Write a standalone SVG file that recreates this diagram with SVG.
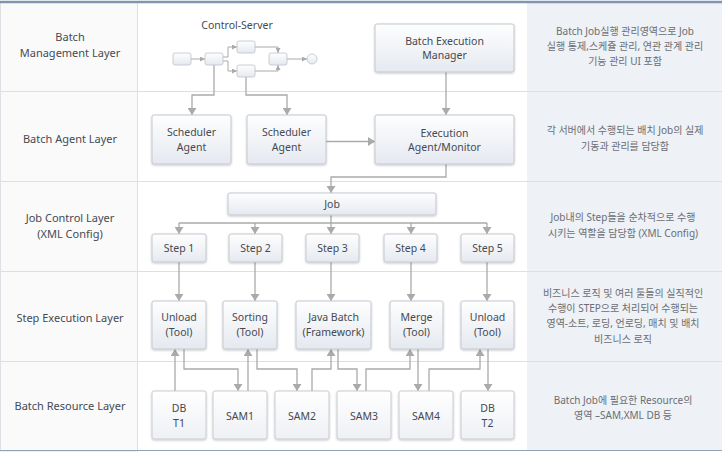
<svg xmlns="http://www.w3.org/2000/svg" width="722" height="455" viewBox="0 0 722 455">
<style>
.lbl{font-family:"Noto Sans","Open Sans","Liberation Sans",sans-serif;font-size:11px;fill:#454a52;text-anchor:middle}
.bt{font-family:"Noto Sans","Open Sans","Liberation Sans",sans-serif;font-size:10.5px;fill:#454a52;text-anchor:middle}
.kr{font-family:"Noto Sans","Noto Sans CJK KR",sans-serif;font-size:10px;fill:#6a6e74;text-anchor:middle}
.box{fill:url(#g);stroke:#c3c8d0;stroke-width:1;filter:url(#sh)}
.rbox{fill:url(#g2);stroke:#c8ccd3;stroke-width:1;filter:url(#sh)}
.mini{fill:url(#g);stroke:#bcc2ca;stroke-width:0.8}
.c{fill:none;stroke:#aaaaaa;stroke-width:1.3}
.cs{fill:none;stroke:#aaaaaa;stroke-width:1}
.sep{stroke:#dcdfe4;stroke-width:1}
</style>
<defs>
<linearGradient id="g" x1="0" y1="0" x2="0" y2="1"><stop offset="0" stop-color="#fefefe"/><stop offset="1" stop-color="#e5e9f0"/></linearGradient>
<linearGradient id="g2" x1="0" y1="0" x2="0" y2="1"><stop offset="0" stop-color="#ffffff"/><stop offset="1" stop-color="#eef0f4"/></linearGradient>
<filter id="sh" x="-10%" y="-10%" width="120%" height="130%"><feDropShadow dx="0" dy="1" stdDeviation="0.8" flood-color="#000" flood-opacity="0.22"/></filter>
<marker id="a" viewBox="0 0 10 10" refX="10" refY="5" markerWidth="7" markerHeight="9" markerUnits="userSpaceOnUse" orient="auto" preserveAspectRatio="none"><path d="M0,0 L10,5 L0,10 z" fill="#aaaaaa"/></marker>
<marker id="as" viewBox="0 0 10 10" refX="10" refY="5" markerWidth="5" markerHeight="5" markerUnits="userSpaceOnUse" orient="auto" preserveAspectRatio="none"><path d="M0,0 L10,5 L0,10 z" fill="#aaaaaa"/></marker>
</defs>
<rect x="0" y="0" width="722" height="455" fill="#ffffff"/>
<g id="frame">
<rect x="0.5" y="2" width="137" height="449" fill="#fafafb" stroke="#dde0e4"/>
<rect x="527" y="2" width="195" height="449" fill="#eef1f5"/>
<line class="sep" x1="0" y1="91.5" x2="722" y2="91.5"/>
<line class="sep" x1="0" y1="181.5" x2="722" y2="181.5"/>
<line class="sep" x1="0" y1="271.5" x2="722" y2="271.5"/>
<line class="sep" x1="0" y1="361.5" x2="722" y2="361.5"/>
<line x1="0" y1="2" x2="722" y2="2" stroke="#7e96b0" stroke-width="2.5"/>
<line x1="0" y1="450.5" x2="722" y2="450.5" stroke="#8ea2b8" stroke-width="1.2"/>
</g>
<g id="layers">
<text class="lbl" x="70" y="41">Batch</text>
<text class="lbl" x="70" y="57">Management Layer</text>
<text class="lbl" x="70" y="143">Batch Agent Layer</text>
<text class="lbl" x="70" y="222">Job Control Layer</text>
<text class="lbl" x="70" y="238">(XML Config)</text>
<text class="lbl" x="70" y="322">Step Execution Layer</text>
<text class="lbl" x="70" y="410">Batch Resource Layer</text>
</g>
<g id="descriptions">
<text class="kr" x="625" y="34.5">Batch Job실행 관리영역으로 Job</text>
<text class="kr" x="625" y="49.5">실행 통제,스케쥴 관리, 연관 관계 관리</text>
<text class="kr" x="625" y="64.5">기능 관리 UI 포함</text>
<text class="kr" x="625" y="133.5">각 서버에서 수행되는 배치 Job의 실제</text>
<text class="kr" x="625" y="149.5">기동과 관리를 담당함</text>
<text class="kr" x="623" y="220.5">Job내의 Step들을 순차적으로 수행</text>
<text class="kr" x="623" y="236.5">시키는 역할을 담당함 (XML Config)</text>
<text class="kr" x="623" y="296.5">비즈니스 로직 및 여러 툴들의 실직적인</text>
<text class="kr" x="623" y="311.5">수행이 STEP으로 처리되어 수행되는</text>
<text class="kr" x="623" y="326.5">영역-소트, 로딩, 언로딩, 매치 및 배치</text>
<text class="kr" x="623" y="342.5">비즈니스 로직</text>
<text class="kr" x="623" y="403.5">Batch Job에 필요한 Resource의</text>
<text class="kr" x="623" y="418.5">영역 –SAM,XML DB 등</text>
</g>
<g id="connectors">
<path class="cs" d="M191,59 H205" marker-end="url(#as)"/>
<path class="cs" d="M223,57 H228 V47 H237" marker-end="url(#as)"/>
<path class="cs" d="M223,61 H228 V71 H237" marker-end="url(#as)"/>
<path class="cs" d="M255,47 H278 V53" marker-end="url(#as)"/>
<path class="cs" d="M255,71 H278 V65" marker-end="url(#as)"/>
<path class="cs" d="M287,59 H307" marker-end="url(#as)"/>
<path class="c" d="M214,65 V95 H192 V115" marker-end="url(#a)"/>
<path class="c" d="M246,77 V95 H287 V115" marker-end="url(#a)"/>
<path class="c" d="M446,72 V115" marker-end="url(#a)"/>
<path class="c" d="M326,141.5 H375" marker-end="url(#a)"/>
<path class="c" d="M446,164 V177 H331 V193" marker-end="url(#a)"/>
<path class="c" d="M331,215 V223 M179,223 H487"/>
<path class="c" d="M179,223 V234" marker-end="url(#a)"/>
<path class="c" d="M255,223 V234" marker-end="url(#a)"/>
<path class="c" d="M331,223 V234" marker-end="url(#a)"/>
<path class="c" d="M411,223 V234" marker-end="url(#a)"/>
<path class="c" d="M487,223 V234" marker-end="url(#a)"/>
<path class="c" d="M179,262 V301" marker-end="url(#a)"/>
<path class="c" d="M255,262 V301" marker-end="url(#a)"/>
<path class="c" d="M331,262 V301" marker-end="url(#a)"/>
<path class="c" d="M411,262 V301" marker-end="url(#a)"/>
<path class="c" d="M487,262 V301" marker-end="url(#a)"/>
<path class="c" d="M175,391 V349" marker-end="url(#a)"/>
<path class="c" d="M184,349 V369 H238 V391" marker-end="url(#a)"/>
<path class="c" d="M248,391 V349" marker-end="url(#a)"/>
<path class="c" d="M257,349 V369 H297 V391" marker-end="url(#a)"/>
<path class="c" d="M312,391 V369 H331 V349" marker-end="url(#a)"/>
<path class="c" d="M338,349 V369 H357 V391" marker-end="url(#a)"/>
<path class="c" d="M366,391 V369 H410 V349" marker-end="url(#a)"/>
<path class="c" d="M418,349 V391" marker-end="url(#a)"/>
<path class="c" d="M429,391 V369 H480 V349" marker-end="url(#a)"/>
<path class="c" d="M488,349 V391" marker-end="url(#a)"/>
</g>
<g id="control-server">
<text class="bt" x="237" y="29">Control-Server</text>
<rect class="mini" x="173" y="53" width="18" height="12" rx="2"/>
<rect class="mini" x="205" y="53" width="18" height="12" rx="2"/>
<rect class="mini" x="237" y="41" width="18" height="12" rx="2"/>
<rect class="mini" x="237" y="65" width="18" height="12" rx="2"/>
<rect class="mini" x="269" y="53" width="18" height="12" rx="2"/>
<circle cx="312" cy="59" r="5" fill="url(#g)" stroke="#bcc2ca" stroke-width="0.8"/>
</g>
<g id="batch-execution-manager"><rect class="box" x="375" y="24" width="139" height="48" rx="2"/><text class="bt" x="444.5" y="45">Batch Execution</text><text class="bt" x="444.5" y="59">Manager</text></g>
<g id="scheduler-agent-1"><rect class="box" x="152" y="115" width="79" height="49" rx="2"/><text class="bt" x="191.5" y="136">Scheduler</text><text class="bt" x="191.5" y="151">Agent</text></g>
<g id="scheduler-agent-2"><rect class="box" x="247" y="115" width="79" height="49" rx="2"/><text class="bt" x="286.5" y="136">Scheduler</text><text class="bt" x="286.5" y="151">Agent</text></g>
<g id="execution-agent"><rect class="box" x="375" y="115" width="139" height="49" rx="2"/><text class="bt" x="444.5" y="137">Execution</text><text class="bt" x="444.5" y="151">Agent/Monitor</text></g>
<g id="job"><rect class="box" x="228" y="193" width="208" height="22" rx="2"/><text class="bt" x="332" y="208">Job</text></g>
<g id="step-1"><rect class="box" x="152" y="234" width="54" height="28" rx="2"/><text class="bt" x="179" y="252">Step 1</text></g>
<g id="step-2"><rect class="box" x="229" y="234" width="53" height="28" rx="2"/><text class="bt" x="255.5" y="252">Step 2</text></g>
<g id="step-3"><rect class="box" x="306" y="234" width="53" height="28" rx="2"/><text class="bt" x="332.5" y="252">Step 3</text></g>
<g id="step-4"><rect class="box" x="384" y="234" width="53" height="28" rx="2"/><text class="bt" x="410.5" y="252">Step 4</text></g>
<g id="step-5"><rect class="box" x="461" y="234" width="53" height="28" rx="2"/><text class="bt" x="487.5" y="252">Step 5</text></g>
<g id="unload-1"><rect class="box" x="152" y="301" width="54" height="48" rx="2"/><text class="bt" x="179" y="321">Unload</text><text class="bt" x="179" y="336">(Tool)</text></g>
<g id="sorting"><rect class="box" x="223" y="301" width="54" height="48" rx="2"/><text class="bt" x="250" y="321">Sorting</text><text class="bt" x="250" y="336">(Tool)</text></g>
<g id="java-batch"><rect class="box" x="296" y="301" width="75" height="48" rx="2"/><text class="bt" x="333.5" y="321">Java Batch</text><text class="bt" x="333.5" y="336">(Framework)</text></g>
<g id="merge"><rect class="box" x="390" y="301" width="53" height="48" rx="2"/><text class="bt" x="416.5" y="321">Merge</text><text class="bt" x="416.5" y="336">(Tool)</text></g>
<g id="unload-2"><rect class="box" x="461" y="301" width="53" height="48" rx="2"/><text class="bt" x="487.5" y="321">Unload</text><text class="bt" x="487.5" y="336">(Tool)</text></g>
<g id="db-t1"><rect class="rbox" x="152" y="391" width="54" height="48" rx="2"/><text class="bt" x="179" y="412">DB</text><text class="bt" x="179" y="427">T1</text></g>
<g id="sam1"><rect class="rbox" x="213" y="391" width="54" height="48" rx="2"/><text class="bt" x="240" y="420">SAM1</text></g>
<g id="sam2"><rect class="rbox" x="275" y="391" width="54" height="48" rx="2"/><text class="bt" x="302" y="420">SAM2</text></g>
<g id="sam3"><rect class="rbox" x="337" y="391" width="54" height="48" rx="2"/><text class="bt" x="364" y="420">SAM3</text></g>
<g id="sam4"><rect class="rbox" x="399" y="391" width="54" height="48" rx="2"/><text class="bt" x="426" y="420">SAM4</text></g>
<g id="db-t2"><rect class="rbox" x="461" y="391" width="53" height="48" rx="2"/><text class="bt" x="487.5" y="412">DB</text><text class="bt" x="487.5" y="427">T2</text></g>
</svg>
